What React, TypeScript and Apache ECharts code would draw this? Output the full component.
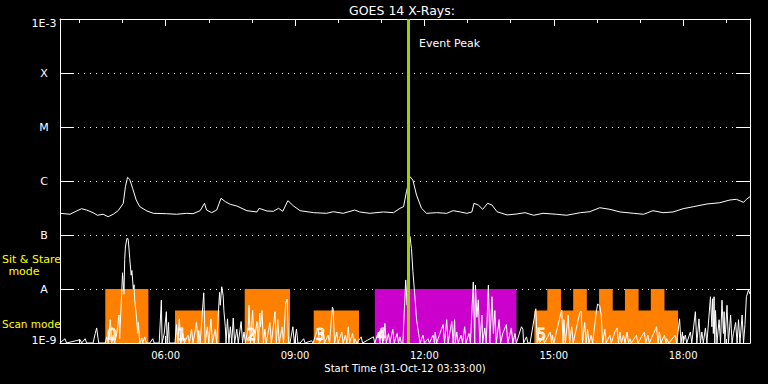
import React, { useEffect, useRef } from "react";
import * as echarts from "echarts";

// ---------- data ----------
const START_MIN = 213; // 03:33
const END_MIN = 1173; // 19:33
const hourTicks = [240, 300, 360, 420, 480, 540, 600, 660, 720, 780, 840, 900, 960, 1020, 1080, 1140];
const labelTicks = [360, 540, 720, 900, 1080];
const yTickLabels = ["1E-9", "A", "B", "C", "M", "X", "1E-3"];
const EVENT_PEAK_MIN = 698;
const FLOOR = 1e-9;

// long channel flux [minute of day, W/m^2]
const upperTimes = [213, 227, 234, 243, 250, 259, 265, 273, 280, 287, 294, 301, 304, 307, 310, 314, 319, 324, 334, 343, 361, 375, 389, 398, 408, 414, 417, 424, 431, 437, 443, 450, 459, 473, 487, 490, 501, 510, 517, 523, 530, 538, 547, 566, 584, 593, 607, 623, 630, 644, 663, 677, 686, 691, 695, 700, 704, 709, 716, 723, 737, 751, 760, 770, 779, 786, 789, 795, 801, 808, 814, 821, 835, 848, 860, 872, 885, 904, 918, 937, 950, 964, 978, 992, 1011, 1025, 1038, 1052, 1066, 1080, 1094, 1113, 1131, 1145, 1154, 1164, 1168, 1173];
const upperFlux = [2.52e-7, 2.42e-7, 2.7e-7, 3.07e-7, 2.9e-7, 2.59e-7, 2.32e-7, 2.42e-7, 2.18e-7, 2.42e-7, 2.82e-7, 3.86e-7, 7.84e-7, 1.17e-6, 1.07e-6, 7.33e-7, 4.45e-7, 3.34e-7, 2.78e-7, 2.52e-7, 2.48e-7, 2.42e-7, 2.52e-7, 2.48e-7, 2.82e-7, 3.86e-7, 2.9e-7, 2.59e-7, 2.9e-7, 4.78e-7, 4.14e-7, 3.7e-7, 3.44e-7, 2.82e-7, 2.67e-7, 3.12e-7, 2.78e-7, 2.75e-7, 3.12e-7, 2.75e-7, 4.32e-7, 3.44e-7, 2.82e-7, 2.59e-7, 2.52e-7, 2.7e-7, 2.52e-7, 2.9e-7, 2.67e-7, 2.52e-7, 2.67e-7, 2.59e-7, 3.12e-7, 3.34e-7, 6.34e-7, 1.2e-6, 1.04e-6, 5.5e-7, 3.12e-7, 2.52e-7, 2.59e-7, 2.52e-7, 2.82e-7, 2.67e-7, 2.52e-7, 2.67e-7, 3.86e-7, 3.59e-7, 2.99e-7, 3.86e-7, 3.59e-7, 2.7e-7, 2.35e-7, 2.45e-7, 2.59e-7, 2.32e-7, 2.52e-7, 2.42e-7, 2.32e-7, 2.59e-7, 2.7e-7, 3.2e-7, 2.99e-7, 2.67e-7, 2.52e-7, 2.42e-7, 2.82e-7, 2.59e-7, 2.67e-7, 3.07e-7, 3.34e-7, 3.75e-7, 3.96e-7, 4.45e-7, 4.58e-7, 4.03e-7, 4.58e-7, 5.12e-7];

// short channel flux [minute of day, flux in units of 1e-9 W/m^2]
const lowerFluxNano: [number, number][] = [
  [213, 1], [220, 1.2], [222, 1], [241, 1.15], [243, 1], [248, 1.2], [250, 1], [259, 1], [262, 1.5], [264, 1.9], [266, 1.2], [267, 1],
  [276, 1], [278, 1.3], [280, 1], [283, 2.7], [285, 1], [287, 1.4], [289, 1], [292, 1.5], [295, 3.3], [296, 1.2], [299, 9.6], [300, 20],
  [302, 8], [303, 35], [304, 60], [306, 85], [307, 88], [308, 80], [309, 55], [310, 37], [312, 18], [313, 22], [315, 10], [316, 12],
  [317, 6], [319, 3.5], [321, 1.5], [322, 2.4], [324, 1], [327, 1.24], [328, 1], [331, 1.3], [333, 1], [338, 1], [342, 1.2], [344, 1],
  [351, 1], [354, 6.2], [355, 1], [358, 1.5], [361, 3.8], [362, 1], [364, 2.4], [365, 1], [373, 1], [375, 2.2], [377, 1], [379, 2.8],
  [381, 1], [384, 1.5], [386, 1], [391, 1.4], [393, 1], [396, 1.8], [398, 1], [403, 2.4], [405, 1], [406, 1.7], [408, 1], [413, 8.5],
  [415, 1], [418, 2], [420, 1], [423, 2.8], [425, 1], [429, 1.8], [431, 1], [433, 3], [435, 8.7], [436, 5], [438, 11], [440, 7.5],
  [441, 4], [443, 2], [444, 1], [446, 2.8], [448, 1], [450, 2], [452, 1], [454, 2.9], [456, 1], [459, 1.8], [461, 1], [465, 2.5],
  [467, 1], [469, 1.6], [471, 1], [475, 2], [476, 5], [478, 1], [481, 4], [483, 1], [487, 2.5], [489, 1], [491, 3.6], [492, 2],
  [494, 4], [496, 1], [498, 1.8], [500, 1], [502, 1.4], [505, 2.4], [507, 1], [509, 1.6], [512, 3.8], [514, 1], [516, 2.7], [518, 1],
  [522, 2], [524, 1], [526, 3.2], [527, 5.6], [529, 6.5], [531, 1], [533, 1], [537, 2], [539, 1], [542, 1.8], [544, 1], [547, 1],
  [552, 1.2], [554, 1], [563, 1.1], [565, 1], [572, 1.9], [574, 1], [579, 1.6], [581, 1], [586, 1.4], [588, 1], [592, 4.6], [593, 4.3],
  [595, 1], [598, 1.6], [600, 1], [605, 1.6], [607, 1], [610, 1.4], [612, 1], [614, 2], [616, 1], [620, 1.5], [622, 1], [623, 1.2],
  [626, 1], [632, 1.3], [634, 1], [649, 1.3], [651, 1], [656, 1.6], [658, 1], [660, 1.9], [662, 1], [665, 2.3], [667, 1], [670, 1.5],
  [672, 1], [676, 1.8], [678, 1], [682, 1.5], [684, 1], [686, 1.3], [688, 1], [690, 1], [694, 14.7], [696, 5], [697, 60], [698, 100],
  [700, 95], [701, 70], [702, 56], [704, 21], [707, 6.6], [709, 2.8], [711, 1.8], [714, 1], [718, 1.4], [720, 1], [725, 1.2], [727, 1],
  [732, 1.4], [734, 1], [735, 1.6], [737, 1], [746, 2.2], [748, 1], [751, 2.7], [753, 1], [758, 2.5], [760, 1], [762, 2.7], [763, 1],
  [765, 1.6], [767, 1], [771, 1.4], [773, 1], [776, 2], [778, 1], [782, 1.5], [784, 1], [788, 13.5], [790, 1], [791, 11.8], [793, 3],
  [795, 6.3], [797, 1], [800, 3.3], [801, 1], [804, 1.9], [806, 1], [809, 11.8], [811, 1], [814, 7.2], [816, 1.5], [818, 4], [820, 1],
  [824, 2.7], [826, 1], [829, 1.5], [834, 2.2], [836, 1], [841, 1.9], [843, 1], [846, 1.5], [848, 1], [855, 2], [857, 1.8], [858, 1],
  [862, 1.3], [864, 1], [867, 1], [875, 4.3], [877, 1], [878, 1.6], [880, 1], [885, 1.3], [887, 1], [895, 1.6], [897, 1], [898, 1.4],
  [900, 1], [911, 4.1], [913, 1], [914, 2.7], [916, 1], [920, 3.3], [922, 1], [925, 2], [927, 1], [936, 3.6], [938, 3.9], [940, 1],
  [943, 2.4], [945, 1], [947, 1.8], [949, 1], [952, 1.4], [954, 1], [959, 3.6], [961, 5.3], [964, 4.8], [966, 3.3], [968, 1], [971, 1.8],
  [973, 1], [978, 1.4], [980, 1], [985, 1.6], [988, 1.9], [990, 1], [992, 1.6], [994, 1], [997, 1.4], [999, 1], [1002, 1.6], [1004, 1],
  [1006, 1.2], [1008, 1], [1015, 1.4], [1017, 1], [1026, 1.6], [1028, 1], [1031, 1.4], [1033, 1], [1043, 2], [1045, 1], [1047, 1.6],
  [1049, 1], [1054, 1.4], [1056, 1], [1057, 1.2], [1060, 1], [1069, 1.4], [1071, 1], [1075, 2.8], [1077, 1], [1079, 1.6], [1080, 1],
  [1083, 1.4], [1085, 1], [1090, 1.6], [1092, 1], [1097, 3.8], [1099, 1], [1102, 2.8], [1104, 1], [1106, 1.6], [1108, 1], [1111, 1.9],
  [1113, 1], [1118, 7.2], [1120, 2], [1121, 6.6], [1122, 1.5], [1123, 7.2], [1124, 1], [1125, 4], [1127, 1], [1130, 2.7], [1132, 1],
  [1134, 6.2], [1136, 1.5], [1137, 3.8], [1138, 1], [1141, 5], [1143, 1], [1146, 3.3], [1148, 1], [1150, 1.5], [1153, 2.4], [1155, 1],
  [1157, 2.7], [1159, 1], [1162, 3.3], [1164, 1], [1166, 2.2], [1168, 7.2], [1171, 9.6], [1173, 8],
];

// scan mode blocks [start minute, end minute, top flux]
const scanBlocks = [
  [276, 336, 1e-8],
  [373, 435, 4e-9],
  [470, 533, 1e-8],
  [566, 629, 4e-9],
  [873, 1073, 4e-9],
  [891, 910, 1e-8],
  [927, 946, 1e-8],
  [963, 982, 1e-8],
  [999, 1018, 1e-8],
  [1035, 1054, 1e-8],
];
// sit & stare blocks
const stareBlocks = [[651, 848, 1e-8]];
const blockLabelTimes = [276, 373, 470, 566, 651, 873];
const blockLabelTexts = ["0", "1", "2", "3", "4", "5"];

// ---------- helpers ----------
const FONT = "DejaVu Sans";
const pad = (n: number) => (n < 10 ? "0" + n : "" + n);
const fmtTime = (m: number) => pad(Math.floor(m / 60)) + ":" + pad(Math.round(m % 60));

const rectRenderer = (color: string) => (params: any, api: any) => {
  const p0 = api.coord([api.value(0), api.value(2)]);
  const p1 = api.coord([api.value(1), FLOOR]);
  return {
    type: "rect",
    shape: { x: p0[0], y: p0[1], width: p1[0] - p0[0], height: p1[1] - p0[1] },
    style: { fill: color },
  };
};

const baseX = {
  type: "value",
  min: START_MIN,
  max: END_MIN,
  splitLine: { show: false },
};

export default function App() {
  const ref = useRef<HTMLDivElement>(null);
  useEffect(() => {
    const chart = echarts.init(ref.current!, null, { renderer: "svg" });
    const option: any = {
      animation: false,
      backgroundColor: "#000000",
      grid: { left: 60, right: 18, top: 19, bottom: 41, containLabel: false },
      xAxis: [
        {
          ...baseX,
          position: "bottom",
          axisLine: { show: true, onZero: false, lineStyle: { color: "#ffffff", width: 1 } },
          axisTick: { show: true, inside: true, length: 7, customValues: labelTicks, lineStyle: { color: "#ffffff" } },
          axisLabel: { show: true, customValues: labelTicks, formatter: fmtTime, color: "#ffffff", fontSize: 10, fontFamily: FONT, margin: 7 },
        },
        {
          ...baseX,
          position: "bottom",
          axisLine: { show: false, onZero: false },
          axisTick: { show: true, inside: true, length: 4, customValues: hourTicks, lineStyle: { color: "#ffffff" } },
          axisLabel: { show: false },
        },
        {
          ...baseX,
          position: "top",
          axisLine: { show: true, onZero: false, lineStyle: { color: "#ffffff", width: 1 } },
          axisTick: { show: true, inside: true, length: 7, customValues: labelTicks, lineStyle: { color: "#ffffff" } },
          axisLabel: { show: false },
        },
        {
          ...baseX,
          position: "top",
          axisLine: { show: false, onZero: false },
          axisTick: { show: true, inside: true, length: 4, customValues: hourTicks, lineStyle: { color: "#ffffff" } },
          axisLabel: { show: false },
        },
      ],
      yAxis: [
        {
          type: "log",
          logBase: 10,
          min: 1e-9,
          max: 1e-3,
          splitNumber: 6,
          position: "left",
          axisLine: { show: true, onZero: false, lineStyle: { color: "#ffffff", width: 1 } },
          axisTick: { show: true, inside: true, length: 14, lineStyle: { color: "#ffffff" } },
          axisLabel: {
            show: true,
            color: "#ffffff",
            fontSize: 11,
            fontFamily: FONT,
            align: "center",
            margin: 16,
            formatter: (v: number) => {
              const idx = Math.round(Math.log10(v)) + 9;
              const t = yTickLabels[idx] ?? "";
              if (idx === 0) return "{lo|" + t + "}";
              if (idx === yTickLabels.length - 1) return "{hi|" + t + "}";
              return t;
            },
            rich: {
              lo: { color: "#ffffff", fontSize: 11, fontFamily: FONT, padding: [0, 0, 6, 0] },
              hi: { color: "#ffffff", fontSize: 11, fontFamily: FONT, padding: [8, 0, 0, 0] },
            },
          },
          splitLine: { show: true, lineStyle: { color: "#ffffff", width: 1, type: [1, 5] } },
        },
        {
          type: "log",
          logBase: 10,
          min: 1e-9,
          max: 1e-3,
          splitNumber: 6,
          position: "right",
          axisLine: { show: true, onZero: false, lineStyle: { color: "#ffffff", width: 1 } },
          axisTick: { show: true, inside: true, length: 14, lineStyle: { color: "#ffffff" } },
          axisLabel: { show: false },
          splitLine: { show: false },
        },
      ],
      series: [
        {
          type: "custom",
          name: "scan",
          xAxisIndex: 0,
          yAxisIndex: 0,
          z: 1,
          silent: true,
          clip: true,
          data: scanBlocks,
          renderItem: rectRenderer("#ff8000"),
        },
        {
          type: "custom",
          name: "stare",
          xAxisIndex: 0,
          yAxisIndex: 0,
          z: 1,
          silent: true,
          clip: true,
          data: stareBlocks,
          renderItem: rectRenderer("#cc00cc"),
        },
        {
          type: "custom",
          name: "blockLabels",
          xAxisIndex: 0,
          yAxisIndex: 0,
          z: 2,
          silent: true,
          data: blockLabelTimes.map((t) => [t, FLOOR]),
          renderItem: (params: any, api: any) => {
            const p = api.coord([api.value(0), FLOOR]);
            return {
              type: "text",
              x: p[0] + 2,
              y: p[1] - 1,
              style: {
                text: blockLabelTexts[params.dataIndex],
                fill: "rgba(0,0,0,0)",
                stroke: "#ffffff",
                lineWidth: 1,
                fontSize: 15,
                fontFamily: FONT,
                align: "left",
                verticalAlign: "bottom",
              },
            };
          },
        },
        {
          type: "line",
          name: "long",
          xAxisIndex: 0,
          yAxisIndex: 0,
          z: 3,
          silent: true,
          showSymbol: false,
          symbol: "none",
          lineStyle: { color: "#ffffff", width: 1 },
          data: upperTimes.map((t, i) => [t, upperFlux[i]]),
        },
        {
          type: "line",
          name: "short",
          xAxisIndex: 0,
          yAxisIndex: 0,
          z: 4,
          silent: true,
          showSymbol: false,
          symbol: "none",
          lineStyle: { color: "#ffffff", width: 1 },
          data: lowerFluxNano.map(([t, v]) => [t, v * 1e-9]),
          markLine: {
            silent: true,
            symbol: ["none", "none"],
            label: { show: false },
            lineStyle: { color: "#a0d000", width: 3, type: "solid", opacity: 1 },
            data: [{ xAxis: EVENT_PEAK_MIN }],
          },
        },
      ],
      graphic: [
        {
          type: "text",
          x: 402,
          y: 10,
          style: { text: "GOES 14 X-Rays:", fill: "#ffffff", fontSize: 12.5, fontFamily: FONT, align: "center", verticalAlign: "middle" },
        },
        {
          type: "text",
          x: 419,
          y: 43,
          z: 10,
          style: { text: "Event Peak", fill: "#ffffff", fontSize: 11, fontFamily: FONT, align: "left", verticalAlign: "middle" },
        },
        {
          type: "text",
          x: 405,
          y: 368,
          style: { text: "Start Time (31-Oct-12 03:33:00)", fill: "#ffffff", fontSize: 10, fontFamily: FONT, align: "center", verticalAlign: "middle" },
        },
        {
          type: "text",
          x: 2,
          y: 259,
          style: { text: "Sit & Stare", fill: "#ffff00", fontSize: 11, fontFamily: FONT, align: "left", verticalAlign: "middle" },
        },
        {
          type: "text",
          x: 24,
          y: 271,
          style: { text: "mode", fill: "#ffff00", fontSize: 11, fontFamily: FONT, align: "center", verticalAlign: "middle" },
        },
        {
          type: "text",
          x: 2,
          y: 324,
          style: { text: "Scan mode", fill: "#ffff00", fontSize: 10.5, fontFamily: FONT, align: "left", verticalAlign: "middle" },
        },
      ],
    };
    chart.setOption(option);
    return () => chart.dispose();
  }, []);
  return (
    <div
      ref={ref}
      style={{ width: 768, height: 384, position: "fixed", left: 0, top: 0, background: "#000000" }}
    />
  );
}
